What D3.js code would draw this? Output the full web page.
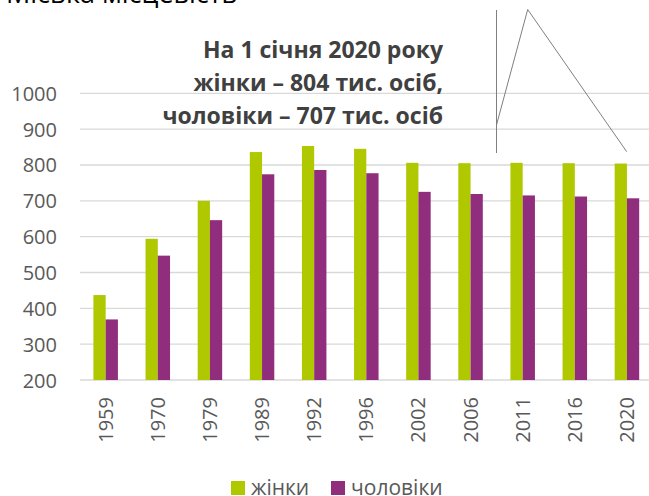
<!DOCTYPE html>
<html>
<head>
<meta charset="utf-8">
<script src="https://cdn.jsdelivr.net/npm/d3@7"></script>
<style>
  html, body { margin: 0; padding: 0; background: #fff; }
  svg { display: block; }
</style>
</head>
<body>
<div id="chart"></div>
<script>
const years = ["1959","1970","1979","1989","1992","1996","2002","2006","2011","2016","2020"];
const women = [437, 594, 700, 836, 853, 845, 806, 805, 806, 805, 804];
const men   = [369, 547, 646, 774, 786, 777, 725, 719, 715, 712, 707];
const seriesNames = ["жінки", "чоловіки"];
const seriesColors = ["#b0c800", "#912d7d"];
const yTicks = [200, 300, 400, 500, 600, 700, 800, 900, 1000];
const titleText = "Міська місцевість";
const noteLines = ["На 1 січня 2020 року", "жінки – 804 тис. осіб,", "чоловіки – 707 тис. осіб"];

const W = 649, H = 496;
const svg = d3.select("#chart").append("svg").attr("width", W).attr("height", H);

const x = d3.scaleBand().domain(years).range([79.6, 653]).paddingInner(0.53).paddingOuter(0.265);
const xs = d3.scaleBand().domain(seriesNames).range([0, x.bandwidth()]);
const y = d3.scaleLinear().domain([200, 1000]).range([380, 93.3]);

// gridlines
svg.append("g").selectAll("line").data(yTicks).join("line")
  .attr("x1", 80).attr("x2", W)
  .attr("y1", d => y(d)).attr("y2", d => y(d))
  .attr("stroke", "#d9d9d9").attr("stroke-width", 1.3);

// y axis labels
const yAxis = d3.axisLeft(y).tickValues(yTicks).tickFormat(d3.format("d")).tickSize(0).tickPadding(0);
const yg = svg.append("g").attr("transform", "translate(57,0)").call(yAxis);
yg.select(".domain").remove();
yg.selectAll("text").attr("font-family", "Open Sans").attr("font-size", 20).attr("fill", "#595959").attr("dy", "0.35em");

// bars
const data = years.map((yr, i) => ({ yr, vals: [women[i], men[i]] }));
const groups = svg.append("g").selectAll("g").data(data).join("g")
  .attr("transform", d => `translate(${x(d.yr)},0)`);
groups.selectAll("rect").data(d => d.vals.map((v, j) => ({ v, s: seriesNames[j], c: seriesColors[j] }))).join("rect")
  .attr("x", d => xs(d.s)).attr("width", xs.bandwidth())
  .attr("y", d => y(d.v)).attr("height", d => y(200) - y(d.v))
  .attr("fill", d => d.c);

// x axis labels
const xAxis = d3.axisBottom(x).tickSize(0).tickPadding(0);
const xg = svg.append("g").attr("transform", "translate(0,397)").call(xAxis);
xg.select(".domain").remove();
xg.selectAll("text")
  .attr("font-family", "Open Sans").attr("font-size", 20).attr("fill", "#595959")
  .attr("transform", "rotate(-90)")
  .attr("text-anchor", "end").attr("x", 0).attr("y", 0).attr("dy", "0.35em");

// title (cut off at top)
svg.append("text").attr("x", 6).attr("y", 3)
  .attr("font-family", "Open Sans").attr("font-size", 27).attr("fill", "#000")
  .text(titleText);

// annotation
svg.append("g").selectAll("text").data(noteLines).join("text")
  .attr("x", 443).attr("y", (d, i) => 58 + i * 33)
  .attr("text-anchor", "end")
  .attr("font-family", "Open Sans").attr("font-weight", "bold").attr("font-size", 23)
  .attr("fill", "#404040")
  .text(d => d);

// callout lines
svg.append("line").attr("x1", 496.5).attr("x2", 496.5).attr("y1", 10).attr("y2", 153)
  .attr("stroke", "#7f7f7f").attr("stroke-width", 1);
svg.append("path").attr("d", "M496.5,125L527.7,9.5L626.7,151.7")
  .attr("fill", "none").attr("stroke", "#7f7f7f").attr("stroke-width", 1);

// legend
const legX = [231, 331];
const lg = svg.append("g").selectAll("g").data(seriesNames).join("g")
  .attr("transform", (d, i) => `translate(${legX[i]},481)`);
lg.append("rect").attr("width", 14).attr("height", 14).attr("fill", (d, i) => seriesColors[i]);
lg.append("text").attr("x", 20).attr("y", 13.5)
  .attr("font-family", "Open Sans").attr("font-size", 21).attr("fill", "#595959")
  .text(d => d);
</script>
</body>
</html>
